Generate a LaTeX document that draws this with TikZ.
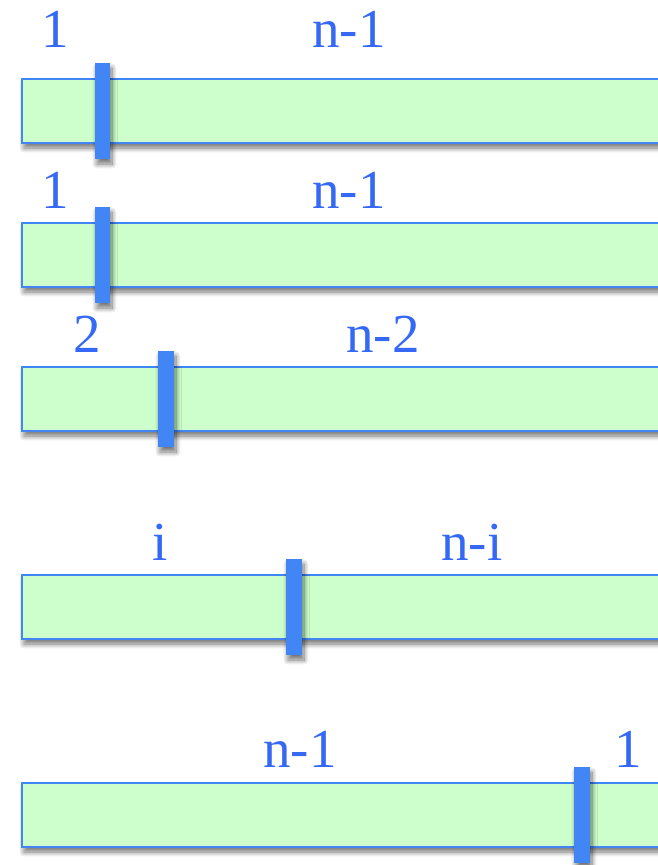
\documentclass[tikz,border=0pt]{standalone}
\usepackage{fontspec}
\setmainfont{Liberation Serif}
\usetikzlibrary{shadows.blur}
\definecolor{barfill}{RGB}{204,255,204}
\definecolor{barline}{RGB}{66,133,244}
\definecolor{labelblue}{RGB}{52,104,245}
\tikzset{
  softshadow/.style={blur shadow={shadow xshift=2pt,shadow yshift=-5pt,shadow blur radius=5pt,shadow blur steps=10,shadow opacity=55}},
  bar/.style={fill=barfill,draw=barline,line width=2.5pt,softshadow},
  cut/.style={fill=barline,draw=none,softshadow},
  lab/.style={text=labelblue,font=\fontsize{55}{60}\selectfont,anchor=base,inner sep=0pt}
}
\begin{document}
\begin{tikzpicture}[x=1pt,y=-1pt]
\useasboundingbox (0,0) rectangle (658,865);
\clip (0,0) rectangle (658,865);
% row 1
\node[lab] (l1a) at (55,47) {1};
\node[lab] (l1b) at (349,47) {n-1};
\path[bar] (22,79) rectangle (700,143);
\path[cut] (95,63) rectangle (110,159);
% row 2
\node[lab] (l2a) at (55,208) {1};
\node[lab] (l2b) at (349,208) {n-1};
\path[bar] (22,223) rectangle (700,287);
\path[cut] (95,207) rectangle (110,303);
% row 3
\node[lab] (l3a) at (87,352) {2};
\node[lab] (l3b) at (383,352) {n-2};
\path[bar] (22,367) rectangle (700,431);
\path[cut] (158,351) rectangle (174,447);
% row 4
\node[lab] (l4a) at (160,560) {i};
\node[lab] (l4b) at (472,560) {n-i};
\path[bar] (22,575) rectangle (700,639);
\path[cut] (286,559) rectangle (302,655);
% row 5
\node[lab] (l5a) at (300,767) {n-1};
\node[lab] (l5b) at (628,767) {1};
\path[bar] (22,783) rectangle (700,847);
\path[cut] (574,767) rectangle (590,863);
\end{tikzpicture}
\end{document}
